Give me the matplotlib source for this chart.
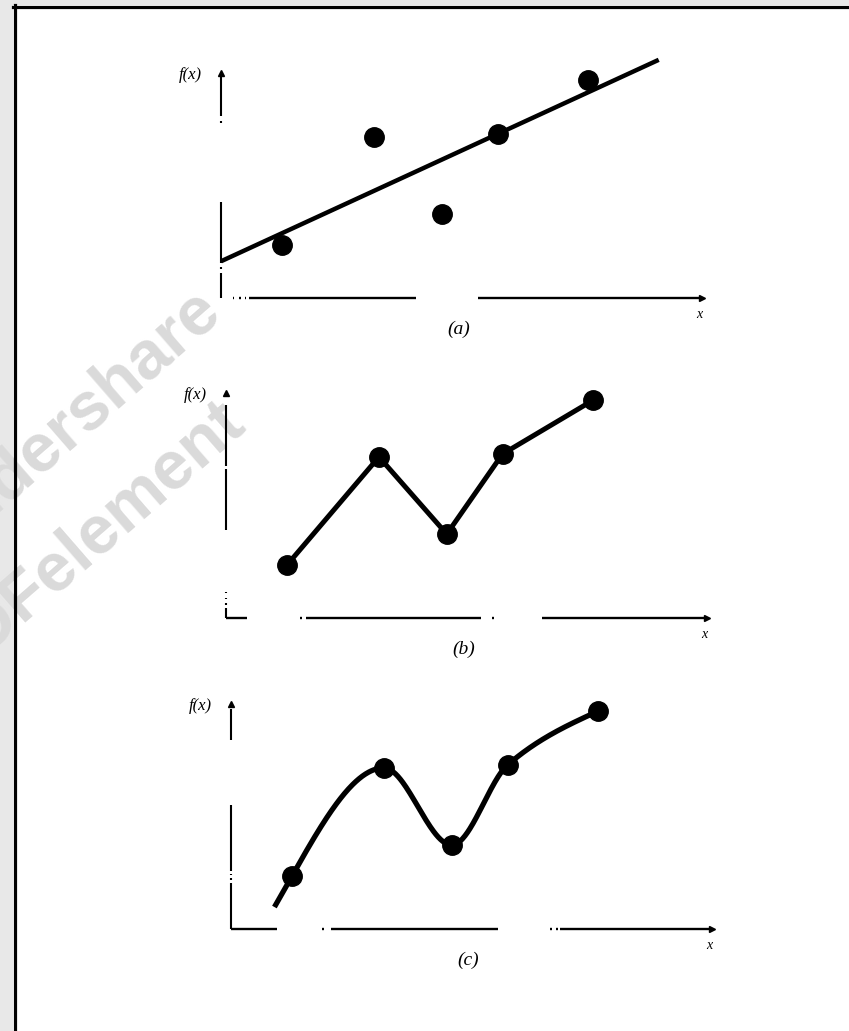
import numpy as np
import matplotlib
matplotlib.use("Agg")
import matplotlib.pyplot as plt
from matplotlib.lines import Line2D
from matplotlib.patches import Rectangle

# same five observations in all three panels
X_PTS = np.array([1.27, 3.18, 4.59, 5.75, 7.64])
Y_PTS = np.array([2.36, 7.16, 3.73, 7.29, 9.69])
PANEL_LABELS = ["(a)", "(b)", "(c)"]
Y_LABEL = "f(x)"
X_LABEL = "x"

W, H = 849, 1031
BG = "#e8e8e8"
WM = "#dadada"
SERIF = ["Liberation Serif", "DejaVu Serif"]


def hermite_slopes(xk, yk):
    # Fritsch-Carlson slopes inside, zero curvature at both ends
    h = np.diff(xk)
    delta = np.diff(yk) / h
    d = np.zeros(len(xk))
    for i in range(1, len(xk) - 1):
        if delta[i - 1] * delta[i] > 0:
            w1 = 2 * h[i] + h[i - 1]
            w2 = h[i] + 2 * h[i - 1]
            d[i] = (w1 + w2) / (w1 / delta[i - 1] + w2 / delta[i])
    d[0] = (3 * delta[0] - d[1]) / 2
    d[-1] = (3 * delta[-1] - d[-2]) / 2
    return d


def hermite_curve(xk, yk, xs):
    d = hermite_slopes(xk, yk)
    out = np.empty_like(xs)
    for j, x in enumerate(xs):
        if x < xk[0]:
            out[j] = yk[0] + d[0] * (x - xk[0])
            continue
        i = min(np.searchsorted(xk, x) - 1, len(xk) - 2)
        i = max(i, 0)
        h = xk[i + 1] - xk[i]
        t = (x - xk[i]) / h
        h00 = 2 * t ** 3 - 3 * t ** 2 + 1
        h10 = t ** 3 - 2 * t ** 2 + t
        h01 = -2 * t ** 3 + 3 * t ** 2
        h11 = t ** 3 - t ** 2
        out[j] = h00 * yk[i] + h10 * h * d[i] + h01 * yk[i + 1] + h11 * h * d[i + 1]
    return out


fig = plt.figure(figsize=(W / 100, H / 100), dpi=100, facecolor=BG)

# page frame: white sheet, black edge on the left and top
fig.patches.append(Rectangle((13 / W, 0), 1, 1 - 5 / H, transform=fig.transFigure,
                             facecolor="white", edgecolor="none", zorder=0.1))
fig.lines.append(Line2D([14.5 / W, 14.5 / W], [0, 1 - 5 / H], transform=fig.transFigure,
                        color="black", lw=2.3, zorder=1))
fig.lines.append(Line2D([13 / W, 1], [1 - 6.5 / H, 1 - 6.5 / H], transform=fig.transFigure,
                        color="black", lw=2.3, zorder=1))

# watermark
for s, (px, py) in [("Wondershare", (-102, 601)), ("PDFelement", (-50, 684))]:
    fig.text(px / W, 1 - py / H, s, rotation=41, rotation_mode="anchor",
             ha="left", va="baseline", fontsize=49, fontweight="bold",
             family=["Liberation Sans", "DejaVu Sans"], color=WM, zorder=0.5)

# panel origins in pixels, axes span 481 x 225 px
origins = [(221, 298), (226, 618), (231, 929)]

# axis strokes (axes fraction), broken like the printed original
y_axis = [
    [(0, 0.111), (0.13, 0.136), (0.156, 0.427), (0.78, 0.786), (0.809, 0.985)],
    [(0, 0.044), (0.06, 0.066), (0.085, 0.091), (0.11, 0.116), (0.391, 0.66), (0.675, 0.947)],
    [(0, 0.205), (0.22, 0.226), (0.24, 0.246), (0.26, 0.553), (0.84, 0.98)],
]
x_axis = [
    [(0.025, 0.028), (0.038, 0.041), (0.05, 0.053), (0.058, 0.405), (0.534, 0.995)],
    [(0, 0.044), (0.154, 0.158), (0.166, 0.530), (0.553, 0.557), (0.657, 0.995)],
    [(0, 0.096), (0.19, 0.194), (0.208, 0.556), (0.663, 0.667), (0.675, 0.679), (0.685, 0.995)],
]

axes = []
for k, (ox, oy) in enumerate(origins):
    ax = fig.add_axes([ox / W, 1 - oy / H, 481 / W, 225 / H], zorder=2)
    ax.set_xlim(0, 10)
    ax.set_ylim(0, 10)
    ax.axis("off")
    ax.patch.set_alpha(0)
    for a, b in y_axis[k]:
        ax.plot([0, 0], [a, b], color="black", lw=1.5, transform=ax.transAxes,
                clip_on=False, solid_capstyle="butt")
    for a, b in x_axis[k]:
        ax.plot([a, b], [0, 0], color="black", lw=1.7, transform=ax.transAxes,
                clip_on=False, solid_capstyle="butt")
    ax.plot(0, 1, marker="^", ms=5, color="black", transform=ax.transAxes, clip_on=False)
    ax.plot(1, 0, marker=">", ms=5, color="black", transform=ax.transAxes, clip_on=False)
    ax.text(-0.04, 0.99, Y_LABEL, transform=ax.transAxes, ha="right", va="center",
            fontsize=12, style="italic", family=SERIF)
    ax.text(0.995, -0.072, X_LABEL, transform=ax.transAxes, ha="center", va="center",
            fontsize=10, style="italic", family=SERIF)
    ax.text(0.494, -0.138, PANEL_LABELS[k], transform=ax.transAxes, ha="center",
            va="center", fontsize=14, style="italic", family=SERIF)
    axes.append(ax)

# (a) least-squares straight line
slope, icpt = np.polyfit(X_PTS, Y_PTS, 1)
xl = np.array([0.0, 9.1])
axes[0].plot(xl, slope * xl + icpt, color="black", lw=3.2, clip_on=False,
             solid_capstyle="butt")
axes[0].plot(X_PTS, Y_PTS, "o", color="black", ms=14, clip_on=False)

# (b) straight segments between the points
axes[1].plot(X_PTS, Y_PTS, "-o", color="black", lw=3.6, ms=14, clip_on=False)

# (c) smooth curve through the points
xs = np.linspace(0.93, X_PTS[-1], 400)
axes[2].plot(xs, hermite_curve(X_PTS, Y_PTS, xs), color="black", lw=3.8, clip_on=False)
axes[2].plot(X_PTS, Y_PTS, "o", color="black", ms=14, clip_on=False)

fig.savefig("out.png", dpi=100, facecolor=BG)
